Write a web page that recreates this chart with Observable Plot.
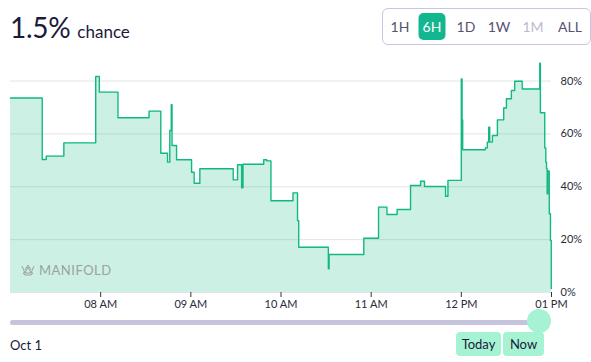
<!DOCTYPE html>
<html>
<head>
<meta charset="utf-8">
<script src="https://cdn.jsdelivr.net/npm/d3@7"></script>
<script src="https://cdn.jsdelivr.net/npm/@observablehq/plot@0.6"></script>
<style>
  html, body { margin: 0; padding: 0; background: #fff; }
  body { width: 591px; height: 362px; position: relative; overflow: hidden; font-family: "Lato", "Inter", sans-serif; color: #1b1a3a; }
  .abs { position: absolute; }
  #prob { left: 10px; top: 9px; font-size: 28px; line-height: 36px; white-space: nowrap; }
  #prob .pct { letter-spacing: -0.3px; }
  #prob .lbl { font-size: 17px; margin-left: 7px; }
  #periods { left: 382px; top: 8px; width: 207px; height: 35px; border: 1px solid #c9c6e0; border-radius: 6px; box-sizing: content-box; }
  #periods span { position: absolute; top: 0; height: 35px; line-height: 35px; font-size: 14px; color: #55536f; transform: translateX(-50%); }
  #periods span.sel { background: #12b78f; color: #fff; border-radius: 5px; top: 4px; height: 27px; line-height: 27px; width: 27px; text-align: center; }
  #periods span.dis { color: #bdbad2; }
  #chart { left: 0; top: 50px; }
  #logo { left: 21px; top: 262px; font-size: 13px; color: #9aa3a0; letter-spacing: 0.5px; display: flex; align-items: center; }
  #track { left: 10px; top: 320px; width: 532px; height: 5px; border-radius: 3px; background: #c6c3dc; }
  #knob { left: 527px; top: 309px; width: 24px; height: 24px; border-radius: 50%; background: #a5f3d3; }
  #date { left: 10px; top: 336px; font-size: 13px; line-height: 18px; }
  .btn { top: 332px; height: 24px; line-height: 24px; font-size: 13px; background: #a5f3d3; border-radius: 4px; text-align: center; color: #1b1a3a; }
</style>
</head>
<body>
<div id="prob" class="abs"><span class="pct">1.5%</span><span class="lbl">chance</span></div>
<div id="periods" class="abs"></div>
<div id="chart" class="abs"></div>
<div id="logo" class="abs">
  <svg width="14" height="12" viewBox="0 0 14 12" style="margin-right:4px">
    <path d="M1 2 L4 9 L7 3 L10 9 L13 2 M2 9 L12 9 L10 11 L4 11 Z M4 6 L7 1 L10 6" fill="none" stroke="#9aa3a0" stroke-width="1"/>
  </svg>
  <span>MANIFOLD</span>
</div>
<div id="track" class="abs"></div>
<div id="knob" class="abs"></div>
<div id="date" class="abs">Oct 1</div>
<div class="abs btn" style="left:456px;width:45px;">Today</div>
<div class="abs btn" style="left:503px;width:41px;">Now</div>
<script>
// ---- data ----
const periodLabels = ["1H", "6H", "1D", "1W", "1M", "ALL"];
const periodCenters = [17, 49, 83, 116, 150, 187];
const selectedPeriod = "6H";
const disabledPeriod = "1M";

const times = [
  "07:00:00","07:21:06","07:23:48","07:35:30","07:56:42","07:59:06","08:11:30","08:32:12",
  "08:40:00","08:44:30","08:46:00","08:47:00","08:47:30","08:50:30","09:00:30","09:02:12",
  "09:06:00","09:28:12","09:31:06","09:33:48","09:34:42","09:48:30","09:50:30","09:53:18",
  "10:08:00","10:11:00","10:11:48","10:31:30","10:32:00","10:55:06","11:04:54","11:10:30",
  "11:17:18","11:26:12","11:32:54","11:35:30","11:49:30","11:51:06","12:00:00","12:00:30",
  "12:00:54","12:16:00","12:17:18","12:18:12","12:18:54","12:20:42","12:24:00","12:28:12",
  "12:30:00","12:33:18","12:35:30","12:40:30","12:52:12","12:52:36","12:55:30","12:56:12",
  "12:56:42","12:57:06","12:57:30","12:58:30","12:59:18","12:59:50","13:00:00"
];
const probabilities = [
  73.6, 50.3, 51.6, 56.6, 81.7, 75.8, 66.1, 68.6,
  52.7, 49.3, 61.3, 71.0, 55.6, 50.2, 45.5, 41.3,
  46.8, 42.6, 48.3, 39.6, 48.5, 50.2, 49.8, 34.7,
  37.7, 27.2, 17.1, 9.0, 14.4, 20.5, 32.3, 29.5,
  31.4, 40.5, 42.1, 40.1, 36.4, 42.4, 80.8, 65.3,
  54.0, 54.7, 56.9, 62.5, 56.9, 59.4, 65.3, 69.8,
  73.3, 76.4, 79.9, 77.0, 86.7, 68.0, 54.7, 49.3,
  46.8, 37.3, 46.0, 29.8, 19.7, 1.5, 1.5
];
const yTicks = [0, 0.2, 0.4, 0.6, 0.8];
const xTickHours = [8, 9, 10, 11, 12, 13];

// ---- build ----
const toDate = (s) => { const [h, m, sec] = s.split(":").map(Number); return new Date(2024, 9, 1, h, m, sec); };
const data = times.map((t, i) => ({ t: toDate(t), p: probabilities[i] / 100 }));
const xTicks = xTickHours.map(h => new Date(2024, 9, 1, h, 0, 0));

const periods = document.getElementById("periods");
periodLabels.forEach((lab, i) => {
  const s = document.createElement("span");
  s.textContent = lab;
  s.style.left = periodCenters[i] + "px";
  if (lab === selectedPeriod) s.className = "sel";
  if (lab === disabledPeriod) s.className = "dis";
  periods.appendChild(s);
});

const chart = Plot.plot({
  width: 591,
  height: 265,
  marginLeft: 10,
  marginRight: 40,
  marginTop: 12,
  marginBottom: 23,
  style: { fontFamily: "Lato, Inter, sans-serif", fontSize: "11px", color: "#2a2a3a", background: "transparent" },
  x: { type: "time", domain: [new Date(2024, 9, 1, 7, 0, 0), new Date(2024, 9, 1, 13, 0, 0)], label: null },
  y: { domain: [0, 0.87], label: null },
  marks: [
    Plot.gridY(yTicks, { stroke: "#e3e4ea", strokeOpacity: 1 }),
    Plot.areaY(data, { x: "t", y: "p", curve: "step-after", fill: "#11b981", fillOpacity: 0.21 }),
    Plot.lineY(data, { x: "t", y: "p", curve: "step-after", stroke: "#11b981", strokeWidth: 1.4 }),
    Plot.axisX(xTicks, { tickFormat: d3.timeFormat("%I %p"), tickSize: 5, tickPadding: 3, stroke: "#333", fontSize: 11, label: null }),
    Plot.axisY(yTicks, { anchor: "right", tickSize: 0, tickPadding: 9, tickFormat: d3.format(".0%"), fontSize: 11, label: null })
  ]
});
document.getElementById("chart").appendChild(chart);
</script>
</body>
</html>
